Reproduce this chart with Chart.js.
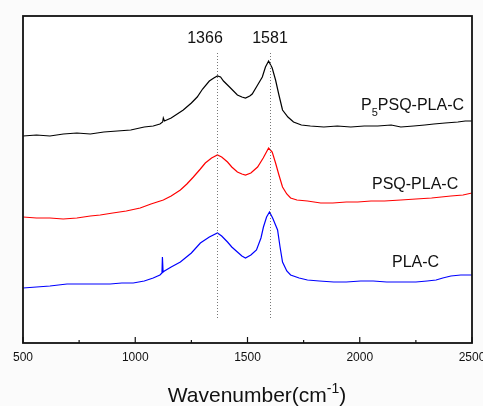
<!DOCTYPE html>
<html>
<head>
<meta charset="utf-8">
<script src="https://cdn.jsdelivr.net/npm/chart.js@4.4.0/dist/chart.umd.min.js"></script>
<style>
  html, body { margin: 0; padding: 0; background: #fbfbfb; overflow: hidden; }
  #wrap { width: 483px; height: 406px; }
</style>
</head>
<body>
<div id="wrap"><canvas id="raman" width="483" height="406"></canvas></div>
<script>
// Data (intensity in arbitrary units, curves offset)
const waveP5 = [500, 560, 620, 680, 740, 800, 860, 920, 980, 1040, 1080, 1110, 1122, 1125, 1130, 1160, 1214, 1250, 1276, 1300, 1330, 1350, 1366, 1380, 1393, 1420, 1455, 1475, 1491, 1510, 1521, 1545, 1566, 1580, 1594, 1610, 1625, 1640, 1656, 1680, 1705, 1740, 1780, 1840, 1900, 1960, 2020, 2080, 2140, 2183, 2240, 2290, 2330, 2380, 2437, 2470, 2500];
const intP5 = [207, 208, 207, 209, 210, 209, 211, 212, 213, 216, 217, 219, 221, 225, 222, 225, 233, 240, 246, 254, 262, 265, 267, 266, 262, 256, 248, 246, 245, 247, 249, 258, 266, 276, 282, 275, 263, 248, 233, 226, 221, 218, 217, 216, 217, 216, 217, 217, 218, 216, 217, 218, 219, 220, 221, 222, 222];

const waveP = [500, 560, 620, 679, 740, 800, 844, 900, 960, 1022, 1070, 1125, 1160, 1201, 1230, 1259, 1290, 1312, 1340, 1366, 1385, 1411, 1430, 1455, 1475, 1491, 1515, 1545, 1570, 1594, 1610, 1625, 1640, 1656, 1675, 1692, 1720, 1767, 1826, 1880, 1940, 1991, 2050, 2110, 2183, 2250, 2320, 2406, 2460, 2500];
const intP = [126, 125, 125, 124, 125, 127, 128, 130, 132, 135, 139, 143, 147, 153, 159, 166, 174, 180, 185, 188, 186, 181, 176, 171, 169, 168, 170, 176, 185, 195, 191, 180, 168, 156, 149, 145, 143, 142, 140, 140, 141, 141, 142, 142, 143, 144, 145, 147, 148, 150];

const waveC = [500, 560, 620, 696, 760, 820, 888, 940, 991, 1040, 1080, 1110, 1119, 1121, 1124, 1130, 1160, 1201, 1250, 1290, 1330, 1366, 1385, 1411, 1430, 1455, 1475, 1491, 1515, 1540, 1560, 1571, 1585, 1598, 1612, 1634, 1645, 1656, 1675, 1692, 1730, 1767, 1820, 1884, 1940, 2004, 2060, 2120, 2183, 2250, 2300, 2340, 2370, 2406, 2450, 2500];
const intC = [55, 56, 57, 59, 59, 59, 59, 60, 60, 62, 65, 68, 70, 86, 71, 72, 76, 81, 90, 100, 106, 110, 107, 101, 96, 91, 87, 85, 88, 93, 105, 116, 126, 131, 125, 113, 96, 81, 72, 68, 65, 63, 62, 61, 61, 62, 62, 61, 61, 61, 62, 63, 65, 67, 68, 68];

const xTicks = [500, 1000, 1500, 2000, 2500];
const xMinorTicks = [750, 1250, 1750, 2250];
const peakLines = [1366, 1600];
const peakLabels = ['1366', '1581'];
const curveNames = ['P5PSQ-PLA-C', 'PSQ-PLA-C', 'PLA-C'];

function toPoints(xs, ys) {
  return xs.map((x, i) => ({ x: x, y: ys[i] }));
}

const FONT = '"Liberation Sans", Arial, sans-serif';

// draws frame, inward ticks, peak markers and all text
const decorPlugin = {
  id: 'decor',
  beforeDraw(chart) {
    const { ctx, chartArea: a } = chart;
    ctx.save();
    ctx.fillStyle = '#ffffff';
    ctx.fillRect(a.left, a.top, a.right - a.left, a.bottom - a.top);
    ctx.restore();
  },
  afterDatasetsDraw(chart) {
    const { ctx, chartArea: a, scales } = chart;
    const xs = scales.x, ys = scales.y;
    ctx.save();

    // dotted peak lines
    ctx.strokeStyle = '#777';
    ctx.lineWidth = 1;
    ctx.setLineDash([1, 2]);
    peakLines.forEach(w => {
      const px = Math.round(xs.getPixelForValue(w)) + 0.5;
      ctx.beginPath();
      ctx.moveTo(px, ys.getPixelForValue(290));
      ctx.lineTo(px, ys.getPixelForValue(25));
      ctx.stroke();
    });
    ctx.setLineDash([]);

    // frame
    ctx.strokeStyle = '#111';
    ctx.lineWidth = 1.8;
    ctx.strokeRect(a.left, a.top, a.right - a.left, a.bottom - a.top);

    // inward ticks on the bottom axis
    ctx.lineWidth = 1.2;
    xTicks.forEach(v => {
      const px = xs.getPixelForValue(v);
      ctx.beginPath(); ctx.moveTo(px, a.bottom); ctx.lineTo(px, a.bottom - 6); ctx.stroke();
    });
    xMinorTicks.forEach(v => {
      const px = xs.getPixelForValue(v);
      ctx.beginPath(); ctx.moveTo(px, a.bottom); ctx.lineTo(px, a.bottom - 3); ctx.stroke();
    });

    // tick labels
    ctx.fillStyle = '#111';
    ctx.font = '12px ' + FONT;
    ctx.textAlign = 'center';
    ctx.textBaseline = 'middle';
    xTicks.forEach(v => ctx.fillText(String(v), xs.getPixelForValue(v), a.bottom + 15));

    // axis title with superscript
    ctx.textAlign = 'left';
    ctx.textBaseline = 'alphabetic';
    const t1 = 'Wavenumber(cm', t2 = '-1', t3 = ')';
    ctx.font = '21px ' + FONT;
    const w1 = ctx.measureText(t1).width, w3 = ctx.measureText(t3).width;
    ctx.font = '14px ' + FONT;
    const w2 = ctx.measureText(t2).width;
    let tx = 257 - (w1 + w2 + w3) / 2;
    const ty = 402;
    ctx.font = '21px ' + FONT;
    ctx.fillText(t1, tx, ty); tx += w1;
    ctx.font = '14px ' + FONT;
    ctx.fillText(t2, tx, ty - 9); tx += w2;
    ctx.font = '21px ' + FONT;
    ctx.fillText(t3, tx, ty);

    // peak labels
    ctx.font = '16px ' + FONT;
    ctx.textAlign = 'center';
    ctx.textBaseline = 'middle';
    ctx.fillText(peakLabels[0], 205, 39);
    ctx.fillText(peakLabels[1], 270, 39);

    // curve names
    ctx.textAlign = 'left';
    let nx = 361;
    ctx.fillText('P', nx, 106);
    nx += ctx.measureText('P').width;
    ctx.font = '11px ' + FONT;
    ctx.fillText('5', nx, 113);
    nx += ctx.measureText('5').width;
    ctx.font = '16px ' + FONT;
    ctx.fillText(curveNames[0].slice(2), nx, 106);
    ctx.fillText(curveNames[1], 372, 185);
    ctx.fillText(curveNames[2], 392, 263);

    ctx.restore();
  }
};

new Chart(document.getElementById('raman'), {
  type: 'line',
  data: {
    datasets: [
      { label: curveNames[0], data: toPoints(waveP5, intP5), borderColor: '#000000', borderWidth: 1.2, pointRadius: 0, tension: 0 },
      { label: curveNames[1], data: toPoints(waveP, intP), borderColor: '#ff0000', borderWidth: 1.2, pointRadius: 0, tension: 0 },
      { label: curveNames[2], data: toPoints(waveC, intC), borderColor: '#0000ff', borderWidth: 1.2, pointRadius: 0, tension: 0 }
    ]
  },
  options: {
    responsive: false,
    animation: false,
    layout: { padding: { left: 23, right: 11, top: 16, bottom: 63 } },
    plugins: { legend: { display: false }, tooltip: { enabled: false } },
    scales: {
      x: { type: 'linear', min: 500, max: 2500, display: false },
      y: { min: 0, max: 327, display: false }
    }
  },
  plugins: [decorPlugin]
});
</script>
</body>
</html>
